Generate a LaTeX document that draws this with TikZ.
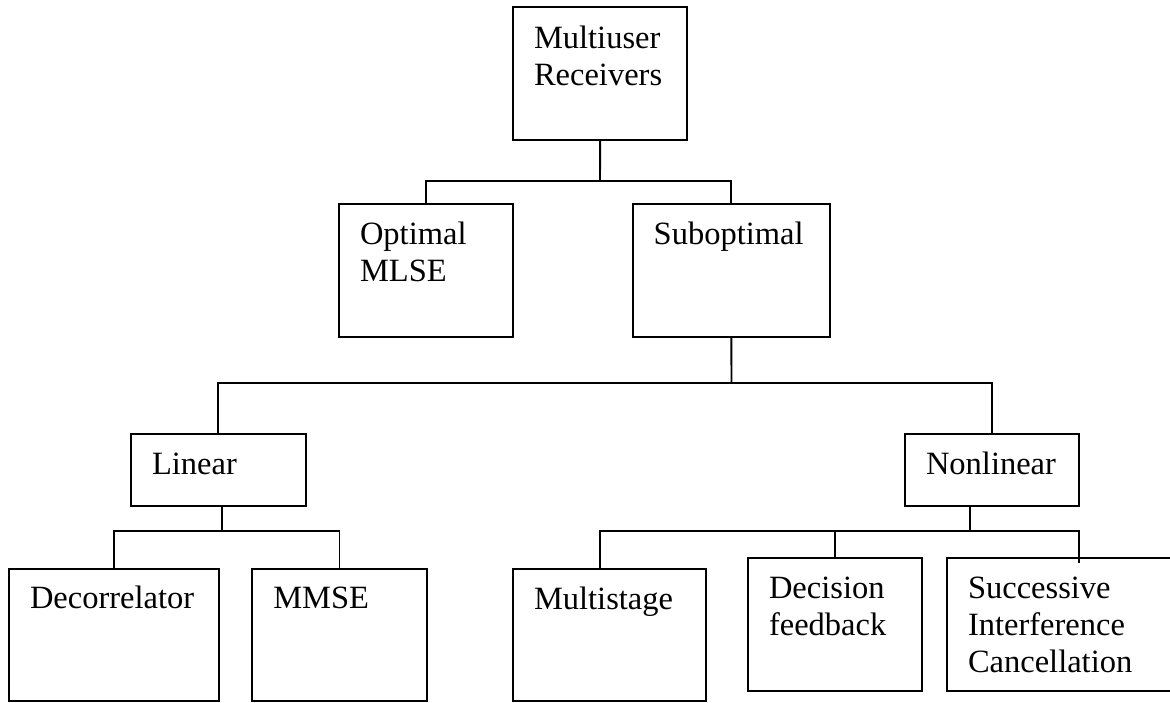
\documentclass[tikz,border=0pt]{standalone}
\usepackage{fontspec}
\setmainfont{Liberation Serif}
\usetikzlibrary{calc}
\begin{document}
\begin{tikzpicture}[x=1pt,y=-1pt,
  box/.style={draw, line width=2pt, inner sep=0pt, outer sep=0pt, anchor=north west},
  lbl/.style={inner sep=0pt, outer sep=0pt, anchor=north west, align=left,
              font=\fontsize{32.5}{36.8}\selectfont},
  wire/.style={line width=1.9pt}]
\useasboundingbox[fill=white] (0,0) rectangle (1170,702);

% level 0
\node[box, minimum width=174.3pt, minimum height=132.7pt] (root) at (513,7.3) {};
\node[lbl] (root-t) at ($(root.north west)+(21,15.2)$) {\strut Multiuser\\Receivers};

% level 1
\node[box, minimum width=174.3pt, minimum height=132.7pt] (opt) at (339,204) {};
\node[lbl] (opt-t) at ($(opt.north west)+(21,15.2)$) {\strut Optimal\\MLSE};
\node[box, minimum width=197.3pt, minimum height=132.7pt] (sub) at (632.7,204) {};
\node[lbl] (sub-t) at ($(sub.north west)+(21,15.2)$) {\strut Suboptimal};

% level 2
\node[box, minimum width=174.7pt, minimum height=71.7pt] (lin) at (131,434) {};
\node[lbl] (lin-t) at ($(lin.north west)+(21,15.2)$) {\strut Linear};
\node[box, minimum width=174.3pt, minimum height=71.7pt] (nl) at (905,434) {};
\node[lbl] (nl-t) at ($(nl.north west)+(21,15.2)$) {\strut Nonlinear};

% level 3
\node[box, minimum width=209.7pt, minimum height=132pt] (dec) at (9,569) {};
\node[lbl] (dec-t) at ($(dec.north west)+(21,14.2)$) {\strut Decorrelator};
\node[box, minimum width=174.4pt, minimum height=132pt] (mmse) at (252.3,569) {};
\node[lbl] (mmse-t) at ($(mmse.north west)+(21,14.2)$) {\strut MMSE};
\node[box, minimum width=192.7pt, minimum height=132pt] (ms) at (513,569) {};
\node[lbl] (ms-t) at ($(ms.north west)+(21,15.2)$) {\strut Multistage};
\node[box, minimum width=174pt, minimum height=132.7pt] (df) at (748,558) {};
\node[lbl] (df-t) at ($(df.north west)+(21,15.2)$) {\strut Decision\\feedback};
\node[box, minimum width=253pt, minimum height=133pt] (sic) at (947,558) {};
\node[lbl] (sic-t) at ($(sic.north west)+(21,15.2)$) {\strut Successive\\Interference\\Cancellation};

% connectors
\coordinate (b1) at (600,181.3);
\draw[wire] (root.south) -- (b1);
\draw[wire] (opt.north) |- (b1) -| (sub.north);

\coordinate (b2) at (731.5,383.3);
\draw[wire] (sub.south) -- (b2);
\draw[wire] (lin.north) |- (b2) -| (nl.north);

\coordinate (b3) at (221.7,530.7);
\draw[wire] (lin.south -| b3) -- (b3);
\draw[wire] (dec.north) |- (b3) -| (mmse.north);

\coordinate (b4) at (970,530.7);
\coordinate (b4l) at (600,530.7);
\coordinate (b4r) at (1079,530.7);
\coordinate (sic-in) at (1079,562.7);
\draw[wire] (nl.south -| b4) -- (b4);
\draw[wire] (ms.north -| b4l) -- (b4l) -- (b4r) -- (sic-in);
\draw[wire] (df.north) -- (df.north |- b4);
\end{tikzpicture}
\end{document}
